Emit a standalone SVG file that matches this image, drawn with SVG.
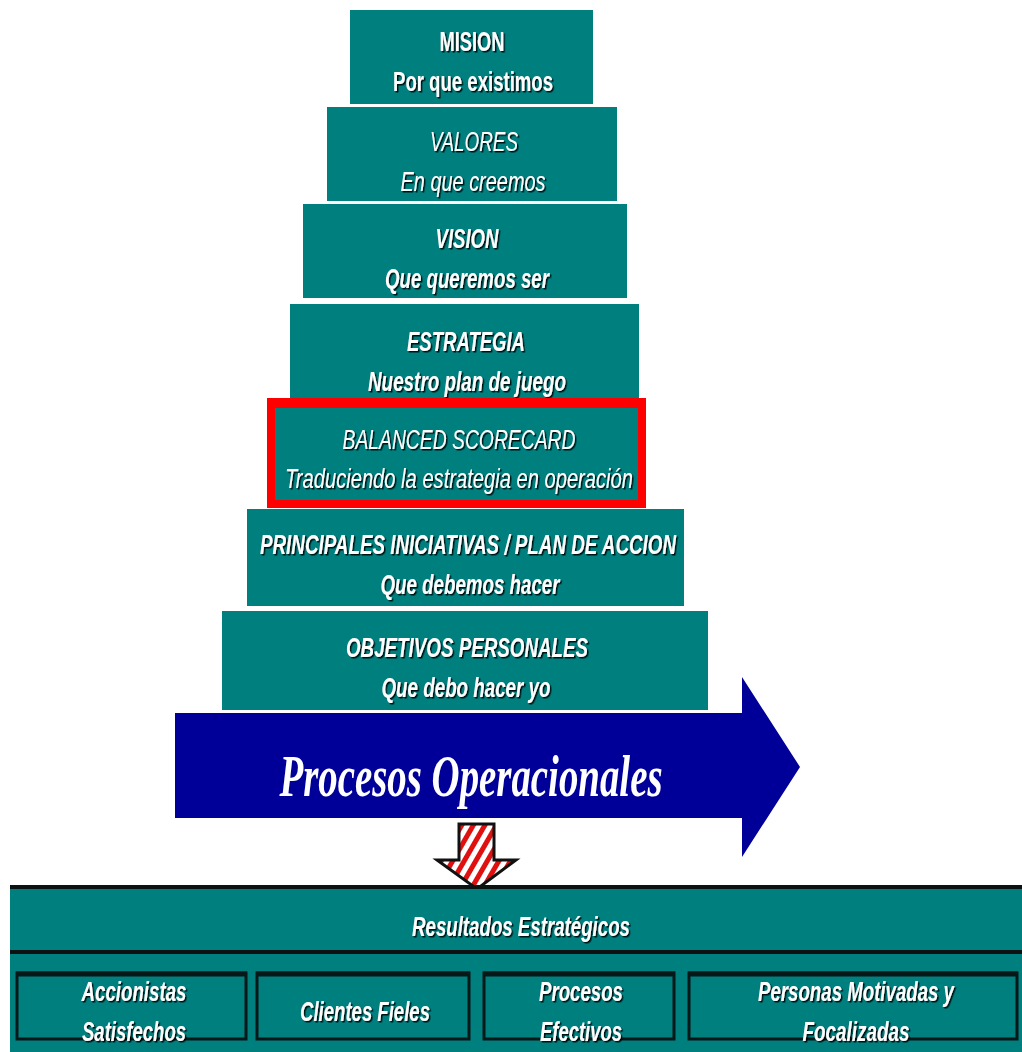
<svg xmlns="http://www.w3.org/2000/svg" width="1022" height="1052" viewBox="0 0 1022 1052">
  <defs>
    <filter id="shadow" x="-10%" y="-30%" width="120%" height="160%">
      <feDropShadow dx="1.5" dy="1.5" stdDeviation="0.6" flood-color="#000" flood-opacity="0.85"/>
    </filter>
    <pattern id="stripes" patternUnits="userSpaceOnUse" width="10" height="10" patternTransform="rotate(30)">
      <rect width="10" height="10" fill="#ffffff"/>
      <rect width="5" height="10" fill="#e01010"/>
    </pattern>
    <style>
      .step { fill: #007f7f; }
      .lbl { font-family: "Liberation Sans", Arial, sans-serif; fill: #ffffff; text-anchor: middle; font-size: 27px; font-weight: bold; filter: url(#shadow); }
      .it { font-style: italic; }
      .reg { font-weight: normal; }
      .cell { fill: #007f7f; stroke: #061818; stroke-width: 3; }
    </style>
  </defs>

  <rect width="1022" height="1052" fill="#ffffff"/>

  <!-- pyramid steps -->
  <g id="mision">
    <rect class="step" x="350" y="10" width="243" height="94"/>
    <text class="lbl" x="472" y="51" textLength="65" lengthAdjust="spacingAndGlyphs">MISION</text>
    <text class="lbl" x="473" y="91" textLength="160" lengthAdjust="spacingAndGlyphs">Por que existimos</text>
  </g>
  <g id="valores">
    <rect class="step" x="327" y="107" width="290" height="94"/>
    <text class="lbl it reg" x="474" y="151" textLength="88" lengthAdjust="spacingAndGlyphs">VALORES</text>
    <text class="lbl it reg" x="473" y="191" textLength="145" lengthAdjust="spacingAndGlyphs">En que creemos</text>
  </g>
  <g id="vision">
    <rect class="step" x="303" y="204" width="324" height="94"/>
    <text class="lbl it" x="467" y="248" textLength="63" lengthAdjust="spacingAndGlyphs">VISION</text>
    <text class="lbl it" x="467" y="288" textLength="164" lengthAdjust="spacingAndGlyphs">Que queremos ser</text>
  </g>
  <g id="estrategia">
    <rect class="step" x="290" y="304" width="349" height="94"/>
    <text class="lbl it" x="466" y="351" textLength="118" lengthAdjust="spacingAndGlyphs">ESTRATEGIA</text>
    <text class="lbl it" x="467" y="391" textLength="198" lengthAdjust="spacingAndGlyphs">Nuestro plan de juego</text>
  </g>
  <g id="balanced-scorecard">
    <rect x="267" y="398" width="379" height="110" fill="#ff0000"/>
    <rect class="step" x="275" y="408" width="363" height="92"/>
    <text class="lbl it reg" x="459" y="449" textLength="233" lengthAdjust="spacingAndGlyphs">BALANCED SCORECARD</text>
    <text class="lbl it reg" x="459" y="488" textLength="348" lengthAdjust="spacingAndGlyphs">Traduciendo la estrategia en operación</text>
  </g>
  <g id="iniciativas">
    <rect class="step" x="247" y="509" width="437" height="97"/>
    <text class="lbl it" x="468" y="554" textLength="416" lengthAdjust="spacingAndGlyphs">PRINCIPALES INICIATIVAS / PLAN DE ACCION</text>
    <text class="lbl it" x="470" y="594" textLength="179" lengthAdjust="spacingAndGlyphs">Que debemos hacer</text>
  </g>
  <g id="objetivos">
    <rect class="step" x="222" y="611" width="486" height="99"/>
    <text class="lbl it" x="467" y="657" textLength="242" lengthAdjust="spacingAndGlyphs">OBJETIVOS PERSONALES</text>
    <text class="lbl it" x="466" y="697" textLength="169" lengthAdjust="spacingAndGlyphs">Que debo hacer yo</text>
  </g>

  <!-- operational processes arrow -->
  <g id="procesos">
    <polygon points="175,713 742,713 742,677 800,767 742,857 742,818 175,818" fill="#000099"/>
    <text x="471" y="796" font-family="Liberation Serif, 'Times New Roman', serif" font-size="60" font-weight="bold" font-style="italic" fill="#ffffff" text-anchor="middle" textLength="383" lengthAdjust="spacingAndGlyphs">Procesos Operacionales</text>
  </g>

  <!-- flow down to results -->
  <g id="connectors">
    <polygon points="459,824 494,824 494,860 516,860 477,889 437,860 459,860" fill="url(#stripes)" stroke="#111" stroke-width="3" stroke-linejoin="miter"/>
  </g>

  <!-- strategic results panel -->
  <g id="resultados">
    <rect x="10" y="886" width="1012" height="166" fill="#007f7f"/>
    <line x1="10" y1="887" x2="1022" y2="887" stroke="#0b1212" stroke-width="4"/>
    <line x1="10" y1="952" x2="1022" y2="952" stroke="#0b1212" stroke-width="4"/>
    <text class="lbl it" x="521" y="936" font-size="24" textLength="218" lengthAdjust="spacingAndGlyphs">Resultados Estratégicos</text>
  </g>
  <g id="accionistas">
    <rect class="cell" x="17" y="973" width="229" height="66"/>
    <line x1="16" y1="974" x2="247" y2="974" stroke="#061818" stroke-width="5"/>
    <text class="lbl it" x="134" y="1001" font-size="24" textLength="105" lengthAdjust="spacingAndGlyphs">Accionistas</text>
    <text class="lbl it" x="134" y="1041" font-size="24" textLength="104" lengthAdjust="spacingAndGlyphs">Satisfechos</text>
  </g>
  <g id="clientes">
    <rect class="cell" x="257" y="973" width="212" height="66"/>
    <line x1="256" y1="974" x2="470" y2="974" stroke="#061818" stroke-width="5"/>
    <text class="lbl it" x="365" y="1021" font-size="24" textLength="130" lengthAdjust="spacingAndGlyphs">Clientes Fieles</text>
  </g>
  <g id="procesos-efectivos">
    <rect class="cell" x="484" y="973" width="190" height="66"/>
    <line x1="483" y1="974" x2="675" y2="974" stroke="#061818" stroke-width="5"/>
    <text class="lbl it" x="581" y="1001" font-size="24" textLength="84" lengthAdjust="spacingAndGlyphs">Procesos</text>
    <text class="lbl it" x="581" y="1041" font-size="24" textLength="82" lengthAdjust="spacingAndGlyphs">Efectivos</text>
  </g>
  <g id="personas">
    <rect class="cell" x="689" y="973" width="328" height="66"/>
    <line x1="688" y1="974" x2="1018" y2="974" stroke="#061818" stroke-width="5"/>
    <text class="lbl it" x="856" y="1001" font-size="24" textLength="196" lengthAdjust="spacingAndGlyphs">Personas Motivadas y</text>
    <text class="lbl it" x="856" y="1041" font-size="24" textLength="107" lengthAdjust="spacingAndGlyphs">Focalizadas</text>
  </g>
</svg>
